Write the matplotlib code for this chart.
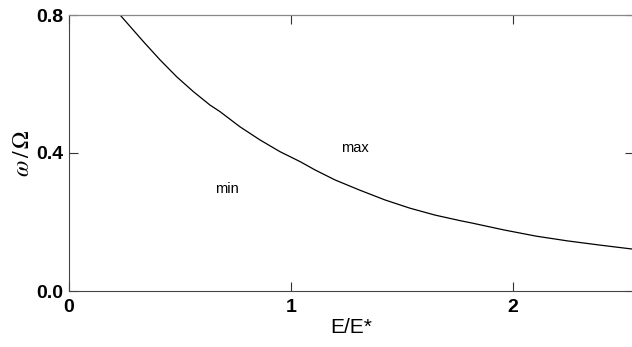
import matplotlib
matplotlib.use("Agg")
import matplotlib.pyplot as plt

# curve: E/E* vs omega/Omega
e_ratio = [0.230, 0.335, 0.410, 0.485, 0.560, 0.635, 0.680, 0.770, 0.860,
           0.950, 1.041, 1.108, 1.198, 1.311, 1.423, 1.536, 1.649, 1.761,
           1.815, 1.959, 2.104, 2.248, 2.392, 2.545]
omega_ratio = [0.800, 0.723, 0.670, 0.621, 0.578, 0.539, 0.520, 0.476, 0.438,
               0.404, 0.375, 0.351, 0.322, 0.292, 0.264, 0.240, 0.220, 0.204,
               0.197, 0.177, 0.159, 0.145, 0.133, 0.121]

x_ticks = [0, 1, 2]
y_ticks = [0.0, 0.4, 0.8]
y_ticklabels = ["0.0", "0.4", "0.8"]

# region labels
region_labels = ["min", "max"]
region_x = [0.71, 1.29]
region_y = [0.297, 0.414]

plt.rcParams['font.family'] = ['Liberation Sans', 'DejaVu Sans']
plt.rcParams['mathtext.fontset'] = 'stix'

fig = plt.figure(figsize=(6.32, 3.47), dpi=100)
W, H = 632.0, 347.0
ax = fig.add_axes([69 / W, 1 - 291 / H, (634 - 69) / W, 276 / H])

ax.plot(e_ratio, omega_ratio, color='black', lw=0.9)

ax.set_xlim(0, 2.545)
ax.set_ylim(0, 0.8)

ax.set_xticks(x_ticks)
ax.set_yticks(y_ticks)
ax.set_yticklabels(y_ticklabels)
ax.tick_params(direction='in', length=6.5, width=0.8, top=True, right=True,
               labelsize=14, colors='#333333', labelcolor='black')
ax.tick_params(axis='x', pad=6)
ax.tick_params(axis='y', pad=4)
for lbl in ax.get_xticklabels() + ax.get_yticklabels():
    lbl.set_fontweight('bold')

for side in ['left', 'bottom']:
    ax.spines[side].set_color('#444444')
    ax.spines[side].set_linewidth(0.8)
for side in ['top', 'right']:
    ax.spines[side].set_color('#888888')
    ax.spines[side].set_linewidth(0.9)

ax.set_xlabel('E/E*', fontsize=15, labelpad=1)
ax.set_ylabel(r'$\omega\,/\,\Omega$', fontsize=17, labelpad=2)

for name, xx, yy in zip(region_labels, region_x, region_y):
    ax.text(xx, yy, name, fontsize=10.5, ha='center', va='center')

fig.savefig('out.png', dpi=100, facecolor='white')
